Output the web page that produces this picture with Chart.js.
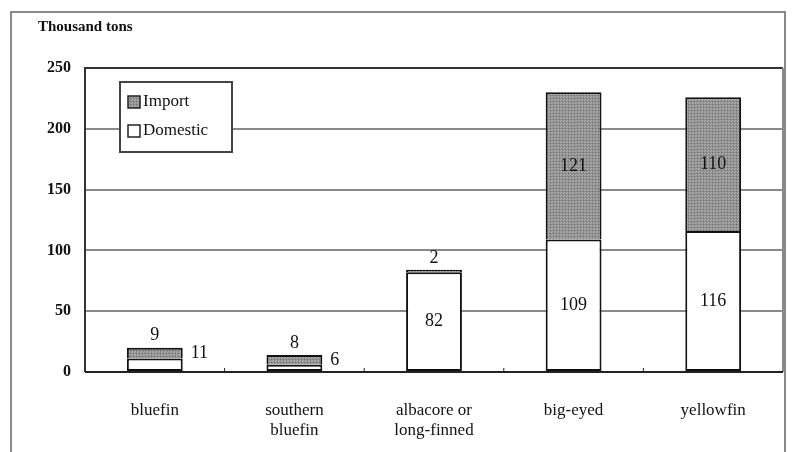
<!DOCTYPE html>
<html>
<head>
<meta charset="utf-8">
<script src="https://cdn.jsdelivr.net/npm/chart.js@4/dist/chart.umd.min.js"></script>
<style>
  html, body { margin: 0; padding: 0; background: #fff; }
  #wrap { width: 796px; height: 452px; }
</style>
</head>
<body>
<div id="wrap"><canvas id="tuna"></canvas></div>
<script>
const categories = [['bluefin'], ['southern', 'bluefin'], ['albacore or', 'long-finned'], ['big-eyed'], ['yellowfin']];
const domestic = [11, 6, 82, 109, 116];
const imports = [9, 8, 2, 121, 110];
const yTicks = [0, 50, 100, 150, 200, 250];

// where each label goes
const domesticPos = ['right', 'right', 'center', 'center', 'center'];
const importPos = ['above', 'above', 'above', 'center', 'center'];

const serif = '"Liberation Serif", "DejaVu Serif", serif';

function grayPattern() {
    const c = document.createElement('canvas');
    c.width = 3; c.height = 3;
    const g = c.getContext('2d');
    g.fillStyle = '#909090';
    g.fillRect(0, 0, 3, 3);
    g.fillStyle = '#b4b4b4';
    g.fillRect(0, 0, 1, 1);
    g.fillRect(2, 1, 1, 1);
    g.fillStyle = '#707070';
    g.fillRect(1, 2, 1, 1);
    return g.createPattern(c, 'repeat');
}
const importFill = grayPattern();

const decorations = {
    id: 'decorations',
    beforeDraw(chart) {
        const ctx = chart.ctx;
        ctx.save();
        ctx.fillStyle = '#fff';
        ctx.fillRect(0, 0, chart.width, chart.height);
        ctx.strokeStyle = '#8a8a8a';
        ctx.lineWidth = 2;
        ctx.strokeRect(11, 12, 774, 460);
        ctx.fillStyle = '#111';
        ctx.font = 'bold 15px ' + serif;
        ctx.textBaseline = 'middle';
        ctx.fillText('Thousand tons', 38, 27);
        ctx.restore();
    },
    afterDatasetsDraw(chart) {
        const ctx = chart.ctx;
        const a = chart.chartArea;
        ctx.save();
        // plot frame
        ctx.strokeStyle = '#333';
        ctx.lineWidth = 2;
        ctx.beginPath();
        ctx.moveTo(a.left, a.bottom);
        ctx.lineTo(a.left, a.top);
        ctx.lineTo(a.right, a.top);
        ctx.stroke();
        ctx.strokeStyle = '#8a8a8a';
        ctx.beginPath();
        ctx.moveTo(a.right, a.top);
        ctx.lineTo(a.right, a.bottom);
        ctx.stroke();
        ctx.strokeStyle = '#222';
        ctx.beginPath();
        ctx.moveTo(a.left, a.bottom);
        ctx.lineTo(a.right, a.bottom);
        ctx.stroke();
        // tiny ticks between categories
        const xs = chart.scales.x;
        ctx.lineWidth = 1;
        for (let i = 1; i < categories.length; i++) {
            const x = (xs.getPixelForValue(i - 1) + xs.getPixelForValue(i)) / 2;
            ctx.beginPath();
            ctx.moveTo(x, a.bottom - 4);
            ctx.lineTo(x, a.bottom);
            ctx.stroke();
        }

        // value labels
        ctx.fillStyle = '#111';
        ctx.font = '18px ' + serif;
        ctx.textBaseline = 'middle';
        const dMeta = chart.getDatasetMeta(0).data;
        const iMeta = chart.getDatasetMeta(1).data;
        dMeta.forEach((bar, i) => {
            const top = iMeta[i];
            if (domesticPos[i] === 'right') {
                ctx.textAlign = 'left';
                ctx.fillText(String(domestic[i]), bar.x + bar.width / 2 + 8, (top.y + top.base) / 2);
            } else {
                ctx.textAlign = 'center';
                ctx.fillText(String(domestic[i]), bar.x, (bar.y + bar.base) / 2);
            }
        });
        iMeta.forEach((bar, i) => {
            ctx.textAlign = 'center';
            if (importPos[i] === 'above') {
                ctx.fillText(String(imports[i]), bar.x, bar.y - 12);
            } else {
                ctx.fillText(String(imports[i]), bar.x, (bar.y + bar.base) / 2);
            }
        });

        // legend
        const lx = a.left + 35, ly = a.top + 14;
        ctx.strokeStyle = '#444';
        ctx.lineWidth = 2;
        ctx.fillStyle = '#fff';
        ctx.fillRect(lx, ly, 112, 70);
        ctx.strokeRect(lx, ly, 112, 70);
        const items = [
            { text: 'Import', fill: importFill },
            { text: 'Domestic', fill: '#fff' }
        ];
        ctx.font = '17px ' + serif;
        ctx.textAlign = 'left';
        items.forEach((it, k) => {
            const cy = ly + 20 + k * 29;
            ctx.fillStyle = it.fill;
            ctx.fillRect(lx + 8, cy - 6, 12, 12);
            ctx.strokeStyle = '#222';
            ctx.lineWidth = 1.5;
            ctx.strokeRect(lx + 8, cy - 6, 12, 12);
            ctx.fillStyle = '#111';
            ctx.fillText(it.text, lx + 23, cy);
        });
        ctx.restore();
    }
};

new Chart(document.getElementById('tuna'), {
    type: 'bar',
    data: {
        labels: categories,
        datasets: [
            {
                label: 'Domestic',
                data: domestic,
                backgroundColor: '#ffffff',
                borderColor: '#111',
                borderWidth: 2,
                borderSkipped: false
            },
            {
                label: 'Import',
                data: imports,
                backgroundColor: importFill,
                borderColor: '#111',
                borderWidth: 2,
                borderSkipped: 'bottom'
            }
        ]
    },
    options: {
        responsive: true,
        maintainAspectRatio: false,
        animation: false,
        events: [],
        layout: { padding: { left: 0, top: 68, right: 13, bottom: 0 } },
        plugins: {
            legend: { display: false },
            tooltip: { enabled: false }
        },
        datasets: {
            bar: { barPercentage: 0.4, categoryPercentage: 1 }
        },
        scales: {
            x: {
                stacked: true,
                grid: { display: false },
                border: { display: false },
                ticks: {
                    color: '#111',
                    font: { family: serif, size: 17 },
                    padding: 20,
                    maxRotation: 0
                },
                afterFit(scale) { scale.height = 80; }
            },
            y: {
                stacked: true,
                min: 0,
                max: 250,
                afterBuildTicks(scale) { scale.ticks = yTicks.map(v => ({ value: v })); },
                grid: { color: '#8a8a8a', lineWidth: 2, drawTicks: false },
                border: { display: false },
                ticks: {
                    color: '#111',
                    font: { family: serif, size: 16, weight: 'bold' },
                    padding: 14
                },
                afterFit(scale) { scale.width = 85; }
            }
        }
    },
    plugins: [decorations]
});
</script>
</body>
</html>
